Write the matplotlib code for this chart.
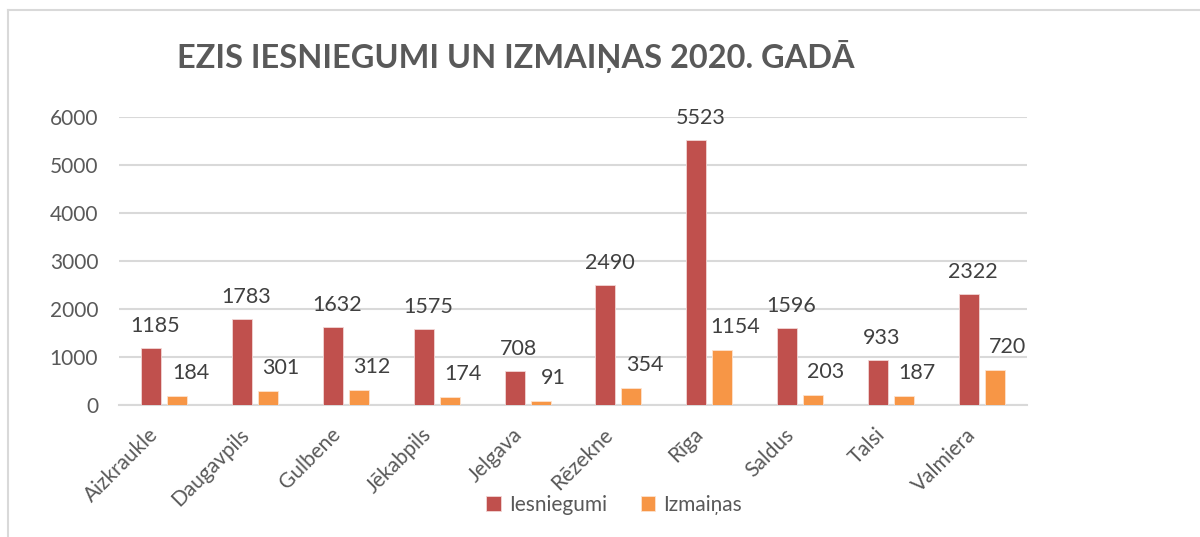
import matplotlib
matplotlib.use("Agg")
import matplotlib.pyplot as plt
import matplotlib.transforms as mtransforms
import numpy as np
from matplotlib.lines import Line2D

plt.rcParams['font.family'] = ['Lato', 'DejaVu Sans']

regions = ['Aizkraukle', 'Daugavpils', 'Gulbene', 'Jēkabpils', 'Jelgava',
           'Rēzekne', 'Rīga', 'Saldus', 'Talsi', 'Valmiera']
iesniegumi = [1185, 1783, 1632, 1575, 708, 2490, 5523, 1596, 933, 2322]
izmainas = [184, 301, 312, 174, 91, 354, 1154, 203, 187, 720]

red = '#C0504D'
orange = '#F79646'
grey = '#595959'

fig = plt.figure(figsize=(12, 5.37), dpi=100)
ax = fig.add_axes([0.0992, 0.2458, 0.7567, 0.5363])

x = np.arange(len(regions))
w = 0.22
off = 0.143
b1 = ax.bar(x - off, iesniegumi, w, color=red, edgecolor='#f2d6d5', linewidth=0.6, label='Iesniegumi', zorder=3)
b2 = ax.bar(x + off, izmainas, w, color=orange, edgecolor='#fde3cf', linewidth=0.6, label='Izmaiņas', zorder=3)

for xi, v in zip(x, iesniegumi):
    ax.annotate(str(v), (xi - off, v), xytext=(4, 22), textcoords='offset pixels',
                ha='center', va='center', fontsize=15.5, color='#404040')
for xi, v in zip(x, izmainas):
    ax.annotate(str(v), (xi + off, v), xytext=(13, 23), textcoords='offset pixels',
                ha='center', va='center', fontsize=15.5, color='#404040')

ax.set_xlim(-0.5, len(regions) - 0.5)
ax.set_ylim(0, 6000)
ax.set_yticks(range(0, 6001, 1000))
ax.yaxis.grid(True, color='#d9d9d9', linewidth=1.5, zorder=0)
for s in ['top', 'right', 'left']:
    ax.spines[s].set_visible(False)
ax.spines['bottom'].set_color('#d9d9d9')
ax.spines['bottom'].set_linewidth(1.5)
ax.tick_params(axis='both', length=0, labelsize=15, colors=grey)
ax.tick_params(axis='y', pad=15)
ax.set_xticks(x)
ax.set_xticklabels(regions, rotation=45, ha='right', rotation_mode='anchor')
ax.tick_params(axis='x', pad=14)
shift = mtransforms.ScaledTranslation(-16 / 100, 0, fig.dpi_scale_trans)
for lbl in ax.get_xticklabels():
    lbl.set_transform(lbl.get_transform() + shift)

fig.text(0.43, 0.8957, 'EZIS IESNIEGUMI UN IZMAIŅAS 2020. GADĀ', ha='center', va='center',
         fontsize=23.4, fontweight='bold', color=grey)

fig.legend(handles=[b1, b2], loc='center', bbox_to_anchor=(0.512, 0.06), ncol=2, frameon=False,
           fontsize=15, labelcolor=grey, handlelength=0.7, handleheight=0.7,
           handletextpad=0.4, columnspacing=1.6)

# chart frame (left and top edges visible)
fig.add_artist(Line2D([8 / 1200, 8 / 1200], [0, 1 - 10 / 537], color='#d9d9d9', linewidth=1.5))
fig.add_artist(Line2D([8 / 1200, 1], [1 - 10 / 537, 1 - 10 / 537], color='#d9d9d9', linewidth=1.5))

fig.savefig('out.png', dpi=100)
